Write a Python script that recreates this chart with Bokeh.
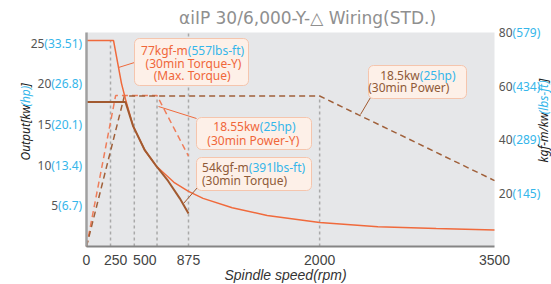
import math
from bokeh.plotting import figure
from bokeh.models import Range1d, Label, BoxAnnotation
from bokeh.embed import file_html
from bokeh.resources import INLINE

# ---------------- data ----------------
x_ticks = [0, 250, 500, 875, 2000, 3500]

left_kw = [5, 10, 15, 20, 25]
left_hp = ["(6.7)", "(13.4)", "(20.1)", "(26.8)", "(33.51)"]
right_kgfm = [20, 40, 60, 80]
right_lbsft = ["(145)", "(289)", "(434)", "(579)"]

# 30min Torque-Y (kgf-m)
torque_y_rpm = [0, 232, 300, 335, 400, 500, 600, 750, 875, 1000, 1250, 1550, 2000, 2500, 3000, 3500]
torque_y_val = [77, 77, 61, 55, 45, 36, 30, 24, 20.6, 18, 14.5, 11.6, 9.0, 7.4, 6.7, 6.2]

# 30min Torque (kgf-m)
torque_rpm = [0, 334, 400, 500, 600, 700, 800, 875]
torque_val = [54, 54, 45, 36, 30, 24.5, 18, 12.3]

# 30min Power-Y (kW)
power_y_rpm = [0, 250, 605, 875]
power_y_kw = [0, 18.55, 18.55, 11.1]

# 30min Power (kW)
power_rpm = [0, 325, 2000, 2330, 2650, 3500]
power_kw = [0, 18.5, 18.5, 16.2, 14.0, 8.1]

# reference (grey dashed) lines
vline_rpm = [206, 410, 605, 875, 2000]
vline_top_kw = [25.3, 18.5, 18.5, 26.3, 18.5]

# ---------------- layout ----------------
W, H = 551, 284
FL, FR, FT, FB = 86, 494, 32, 246          # plot-area edges in pixels
X_MAX, T_MAX, KW_MAX = 3500, 80, 26.3

sx = (FR - FL) / X_MAX
sy = (FB - FT) / T_MAX
sk = (FB - FT) / KW_MAX

ORANGE = "#f06a3c"
BROWN = "#a25a30"
ORANGE_D = "#ef7d5a"
BROWN_D = "#a0603a"
BLUE = "#35b6ea"
DARK = "#555555"
GRID = "#a9a9a9"
BOX_FILL = "#fdf0e8"
BOX_LINE = "#f5c5ad"
TXT_OR = "#f0673a"
TXT_BR = "#8f5a38"


def X(px):  # pixel -> rpm
    return (px - FL) / sx


def Y(py):  # pixel -> kgf-m
    return (FB - py) / sy


NW = {' ': 260, '(': 296, ')': 296, '-': 322, '.': 268, '/': 372, '[': 296, ']': 296,
      'a': 561, 'b': 615, 'c': 480, 'd': 615, 'e': 564, 'f': 344, 'g': 615, 'h': 618,
      'i': 258, 'k': 534, 'l': 258, 'm': 935, 'n': 618, 'o': 605, 'p': 615, 'r': 413,
      's': 479, 't': 361, 'u': 618, 'w': 812, 'y': 520, 'O': 779, 'P': 603, 'T': 556}
for d in "0123456789":
    NW[d] = 572


def tw(s, size, k=1.0):
    return sum(NW.get(c, 560) for c in s) / 1000 * size * k


p = figure(width=W, height=H,
           x_range=Range1d(X(0), X(W)), y_range=Range1d(Y(H), Y(0)),
           output_backend="svg", toolbar_location=None,
           x_axis_location=None, y_axis_location=None,
           min_border=0)
p.extra_y_ranges = {"kw": Range1d(-(H - FB) / sk, KW_MAX + FT / sk)}
p.background_fill_color = "white"
p.border_fill_color = "white"
p.outline_line_color = None
p.xgrid.visible = False
p.ygrid.visible = False

# plot area background
p.add_layout(BoxAnnotation(left=0, right=X_MAX, bottom=0, top=T_MAX,
                           fill_color="#e6e7e9", fill_alpha=1, line_color=None,
                           level="underlay"))

# grey reference lines
p.segment(x0=vline_rpm, y0=[0] * len(vline_rpm), x1=vline_rpm, y1=vline_top_kw,
          y_range_name="kw", line_color=GRID, line_width=1.5, line_dash="3 3")

# power lines (dashed)
p.line(power_y_rpm, power_y_kw, y_range_name="kw", line_color=ORANGE_D,
       line_width=1.5, line_dash="6 4")
p.line(power_rpm, power_kw, y_range_name="kw", line_color=BROWN_D,
       line_width=1.5, line_dash="6 4")

# torque lines
p.line(torque_y_rpm, torque_y_val, line_color=ORANGE, line_width=1.5)
p.line(torque_rpm, torque_val, line_color=BROWN, line_width=2)

# axis lines
p.segment(x0=[0], y0=[0], x1=[0], y1=[T_MAX], line_color="#a0a0a0", line_width=2.5)
p.segment(x0=[0], y0=[0], x1=[X_MAX], y1=[0], line_color="#858585", line_width=2)

# leader lines
leaders = [((134, 62), (118, 67), ORANGE), ((158, 106), (196, 118), ORANGE),
           ((197, 187), (183, 203), BROWN), ((370, 97), (360, 114), BROWN)]
for (a, b, c) in leaders:
    p.segment(x0=[X(a[0])], y0=[Y(a[1])], x1=[X(b[0])], y1=[Y(b[1])], line_color=c, line_width=1)

# annotation boxes
boxes = [(134, 248, 38, 85), (196, 311, 117, 149), (196, 311, 157, 190), (368, 466, 65, 98)]
for (l, r, t, b) in boxes:
    p.add_layout(BoxAnnotation(left=X(l), right=X(r), top=Y(t), bottom=Y(b),
                               fill_color=BOX_FILL, fill_alpha=1, line_color=BOX_LINE,
                               line_width=1, line_alpha=1, border_radius=5))


def lab(xpx, ypx, text, color, size=12, align="left", font="Noto Sans",
        style="normal", angle=0.0):
    p.add_layout(Label(x=X(xpx), y=Y(ypx), text=text, text_color=color,
                       text_font=font, text_font_size=f"{size}px", text_align=align,
                       text_baseline="middle", text_font_style=style, angle=angle))


# box texts
lab(187.3, 49.5, "77kgf-m", TXT_OR, align="right")
lab(187.3, 49.5, "(557lbs-ft)", BLUE)
lab(193, 63.3, "(30min Torque-Y)", TXT_OR, align="center")
lab(191.7, 74.7, "(Max. Torque)", TXT_OR, align="center")

lab(259.3, 125.7, "18.55kw", TXT_OR, align="right")
lab(259.3, 125.7, "(25hp)", BLUE)
lab(252.8, 139.5, "(30min Power-Y)", TXT_OR, align="center")

lab(248.3, 166.7, "54kgf-m", TXT_BR, align="right")
lab(248.3, 166.7, "(391lbs-ft)", BLUE)
lab(244, 180, "(30min Torque)", TXT_BR, align="center")

lab(419.3, 75, "18.5kw", TXT_BR, align="right")
lab(419.3, 75, "(25hp)", BLUE)
lab(408.3, 86.7, "(30min Power)", TXT_BR, align="center")

# title
lab(307, 17, "\u03b1iIP 30/6,000-Y-\u25b3 Wiring(STD.)", "#8f8f8f", size=17,
    align="center", font="DejaVu Sans")

# x tick labels
for t in x_ticks:
    p.add_layout(Label(x=t, y=Y(259), text=str(t), text_color="#444444",
                       text_font="Liberation Sans", text_font_size="14px",
                       text_align="center", text_baseline="middle"))

# left tick labels (kW + hp)
TS = 12
for kw, hp in zip(left_kw, left_hp):
    p.add_layout(Label(x=X(81.7), y=kw, y_range_name="kw", text=hp,
                       text_color=BLUE, text_font="Noto Sans", text_font_size=f"{TS}px",
                       text_align="right", text_baseline="middle"))
    p.add_layout(Label(x=X(81.7 - tw(hp, TS)), y=kw, y_range_name="kw", text=str(kw),
                       text_color=DARK, text_font="Noto Sans", text_font_size=f"{TS}px",
                       text_align="right", text_baseline="middle"))

# right tick labels (kgf-m + lbs-ft)
for t, lb in zip(right_kgfm, right_lbsft):
    p.add_layout(Label(x=X(498.3), y=t, text=str(t),
                       text_color=DARK, text_font="Noto Sans", text_font_size=f"{TS}px",
                       text_align="left", text_baseline="middle"))
    p.add_layout(Label(x=X(498.3 + tw(str(t), TS)), y=t, text=lb,
                       text_color=BLUE, text_font="Noto Sans", text_font_size=f"{TS}px",
                       text_align="left", text_baseline="middle"))

# axis titles (rotated, two colours)
AS = 12
IT = 0.9
ystart = 160
for seg, col in [("Output[kw", "#222222"), ("(hp)", BLUE), ("]", "#222222")]:
    lab(25, ystart, seg, col, size=AS, style="italic", angle=math.pi / 2)
    ystart -= tw(seg, AS, IT)

ystart = 162
for seg, col in [("kgf-m/kw", "#222222"), ("(lbs-ft)", BLUE), ("]", "#222222")]:
    lab(543, ystart, seg, col, size=AS, style="italic", angle=math.pi / 2)
    ystart -= tw(seg, AS, IT)

lab(285, 274, "Spindle speed(rpm)", "#333333", size=14, align="center",
    font="Liberation Sans", style="italic")

open("out.html", "w").write(file_html(p, INLINE))
